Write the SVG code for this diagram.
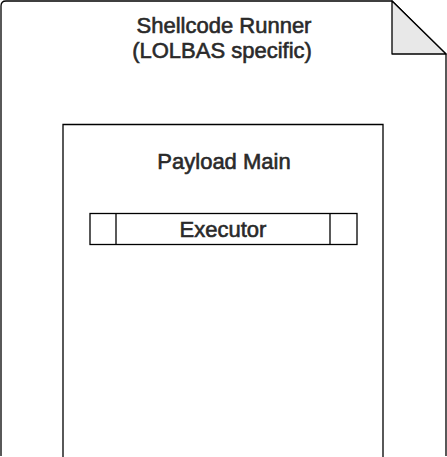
<svg xmlns="http://www.w3.org/2000/svg" width="447" height="457" viewBox="0 0 447 457">
<style>
.s{fill:#fff;stroke:#000;stroke-width:1.3}
.t{font-family:"Liberation Sans",Arial,sans-serif;font-size:22px;font-weight:normal;fill:#2a2a2a;stroke:#2a2a2a;stroke-width:0.6;text-anchor:middle}
</style>
<rect width="447" height="457" fill="#fff"/>
<g id="runner">
<path class="s" d="M1,456 L1,6 Q1,1 6,1 L392,1 L446,54 L446,456"/>
<path d="M392,1 L392,54 L446,54 Z" fill="#e8e8e8" stroke="#000" stroke-width="1.3" stroke-linejoin="round"/>
<text class="t" x="224" y="33">Shellcode Runner</text>
<text class="t" x="222" y="58">(LOLBAS specific)</text>
</g>
<g id="payload">
<path class="s" d="M63,458 L63,124.5 L383,124.5 L383,458"/>
<text class="t" x="224" y="169">Payload Main</text>
</g>
<g id="executor">
<rect class="s" x="90" y="213.5" width="267" height="31"/>
<line x1="116" y1="213.5" x2="116" y2="244.5" stroke="#000" stroke-width="1.3"/>
<line x1="330" y1="213.5" x2="330" y2="244.5" stroke="#000" stroke-width="1.3"/>
<text class="t" x="223" y="237">Executor</text>
</g>
<g id="connectors"/>
</svg>
